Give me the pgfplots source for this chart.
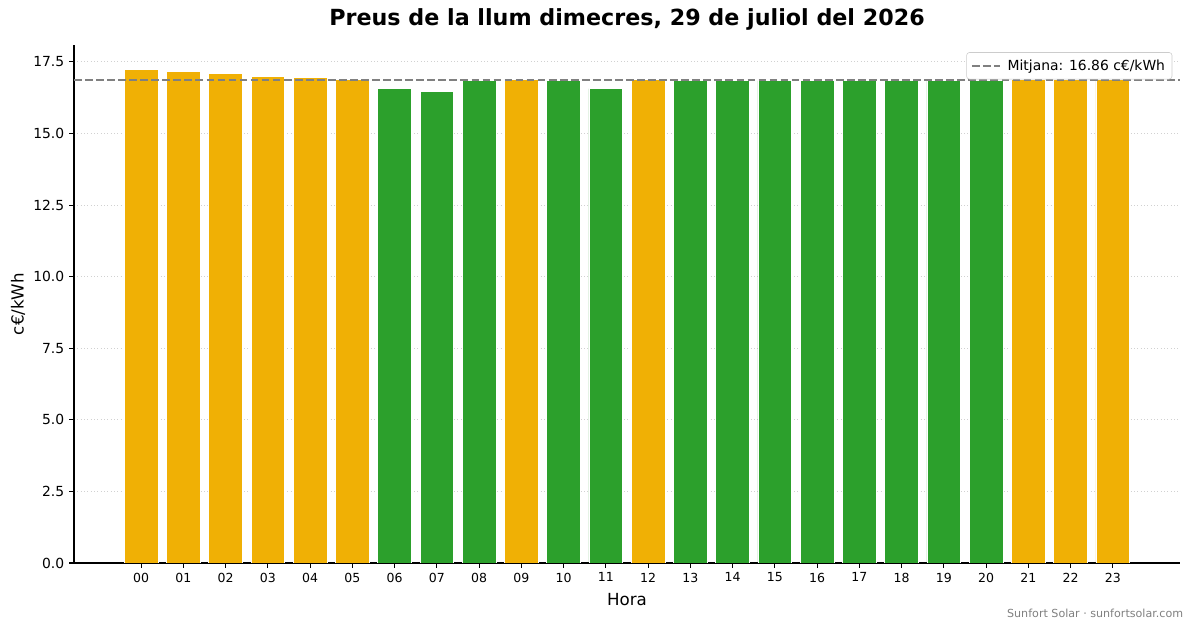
\documentclass[border=0pt]{standalone}
\usepackage{pgfplots}
\pgfplotsset{compat=1.18}
\usepackage{fontspec}
\setmainfont{DejaVu Sans}
\definecolor{cOr}{HTML}{F0B005}
\definecolor{cGr}{HTML}{2CA02C}
\begin{document}
\begin{tikzpicture}
\useasboundingbox (0,0) rectangle (858.96pt,452.16pt);
\begin{axis}[
  at={(53.28pt,46.8pt)}, anchor=south west,
  scale only axis, width=796.32pt, height=372.96pt,
  xmin=-1.59, xmax=24.59, ymin=0, ymax=18.09,
  axis x line*=bottom, axis y line*=left,
  axis line style={-, line width=0.8pt},
  tick align=outside, major tick length=3.5pt,
  tick style={black, line width=0.8pt},
  xtick={0,...,23},
  xticklabels={00,01,02,03,04,05,06,07,08,09,10,11,12,13,14,15,16,17,18,19,20,21,22,23},
  ytick={0,2.5,5,7.5,10,12.5,15,17.5},
  /pgf/number format/assume math mode=true,
  yticklabel style={font=\fontsize{10}{12}\selectfont, /pgf/number format/.cd, fixed, fixed zerofill, precision=1},
  xticklabel style={font=\fontsize{9}{11}\selectfont},
  ymajorgrids, grid style={dotted, line width=0.6pt, black!18},
  xlabel={Hora}, ylabel={c€/kWh},
  label style={font=\fontsize{12}{14}\selectfont},
  xlabel style={at={(axis description cs:0.5,-0.0713)}, anchor=center},
  ylabel style={at={(axis description cs:-0.0506,0.5)}, anchor=center},
  every axis title shift=0pt,
  title={\bfseries Preus de la llum dimecres, 29 de juliol del 2026},
  title style={at={(axis description cs:0.5,1.0502)}, anchor=center, font=\fontsize{16}{19}\selectfont},
  legend style={at={(0.993,0.986)}, anchor=north east, draw=black!20, rounded corners=2pt,
    font=\fontsize{10}{12}\selectfont, inner sep=3pt, column sep=3pt},
  legend image code/.code={\draw[#1] (0pt,0pt) -- (20pt,0pt);},
  legend cell align=left,
]
\addplot[ybar, bar width=0.8, bar shift=0pt, fill=cOr, draw=white, line width=0.5pt, forget plot]
 coordinates {(0,17.23) (1,17.16) (2,17.09) (3,16.99) (4,16.95) (5,16.88) (9,16.88) (12,16.88) (21,16.88) (22,16.88) (23,16.88)};
\addplot[ybar, bar width=0.8, bar shift=0pt, fill=cGr, draw=white, line width=0.5pt, forget plot]
 coordinates {(6,16.57) (7,16.46) (8,16.85) (10,16.85) (11,16.57) (13,16.85) (14,16.85) (15,16.85) (16,16.85) (17,16.85) (18,16.85) (19,16.85) (20,16.85)};
\addplot[color=gray, line width=1.5pt, dash pattern=on 5.55pt off 2.4pt, mark=none]
 coordinates {(-1.59,16.86) (24.59,16.86)};
\addlegendentry{Mitjana: 16.86 c€/kWh}
\end{axis}
\node[anchor=east, text=gray, font=\fontsize{8}{10}\selectfont] at (855.4pt,10.8pt) {Sunfort Solar · sunfortsolar.com};
\end{tikzpicture}
\end{document}
